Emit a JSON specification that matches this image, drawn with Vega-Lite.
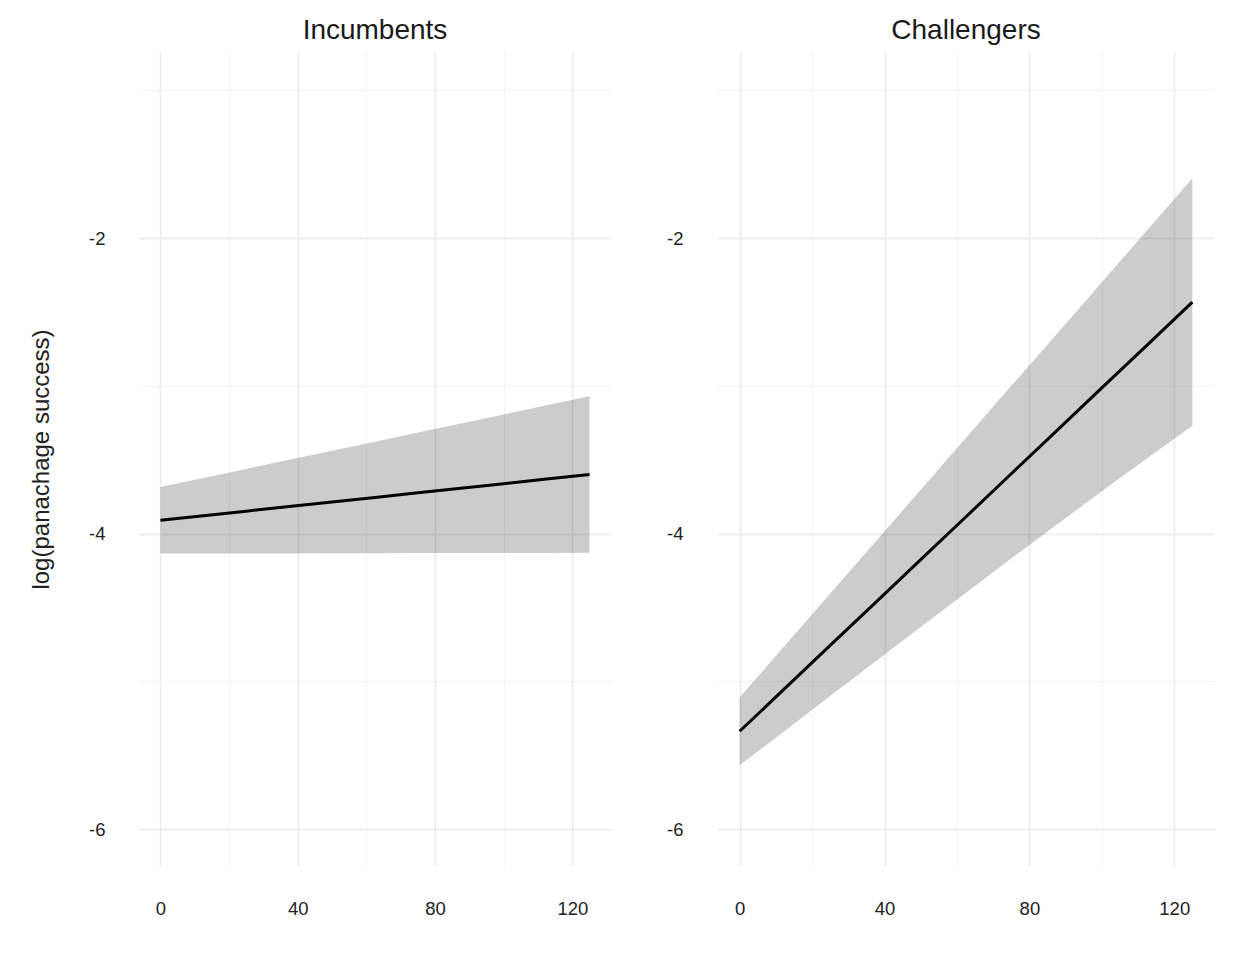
{
  "$schema": "https://vega.github.io/schema/vega-lite/v6.json",
  "background": "white",
  "padding": {"left": 29, "top": 17, "right": 0, "bottom": 0},
  "autosize": {"type": "pad"},
  "config": {
    "font": "Liberation Sans",
    "view": {"stroke": null},
    "axis": {
      "domain": false,
      "ticks": false,
      "gridColor": "#ebebeb",
      "gridWidth": 1.5,
      "labelFont": "Liberation Sans",
      "labelFontSize": 18.5,
      "labelColor": "#222222",
      "titleFont": "Liberation Sans",
      "titleFontSize": 24,
      "titleFontWeight": "normal",
      "titleColor": "#222222"
    },
    "concat": {"spacing": 55}
  },
  "data": {
    "values": [
      {"group": "Incumbents", "x": 0, "fit": -3.91, "lo": -4.135, "hi": -3.685},
      {"group": "Incumbents", "x": 12.5, "fit": -3.879, "lo": -4.135, "hi": -3.624},
      {"group": "Incumbents", "x": 25, "fit": -3.848, "lo": -4.134, "hi": -3.562},
      {"group": "Incumbents", "x": 37.5, "fit": -3.817, "lo": -4.134, "hi": -3.5},
      {"group": "Incumbents", "x": 50, "fit": -3.786, "lo": -4.133, "hi": -3.439},
      {"group": "Incumbents", "x": 62.5, "fit": -3.755, "lo": -4.133, "hi": -3.378},
      {"group": "Incumbents", "x": 75, "fit": -3.724, "lo": -4.132, "hi": -3.316},
      {"group": "Incumbents", "x": 87.5, "fit": -3.693, "lo": -4.132, "hi": -3.255},
      {"group": "Incumbents", "x": 100, "fit": -3.662, "lo": -4.131, "hi": -3.193},
      {"group": "Incumbents", "x": 112.5, "fit": -3.631, "lo": -4.131, "hi": -3.132},
      {"group": "Incumbents", "x": 125, "fit": -3.6, "lo": -4.13, "hi": -3.07},
      {"group": "Challengers", "x": 0, "fit": -5.338, "lo": -5.568, "hi": -5.108},
      {"group": "Challengers", "x": 12.5, "fit": -5.048, "lo": -5.335, "hi": -4.757},
      {"group": "Challengers", "x": 25, "fit": -4.757, "lo": -5.1, "hi": -4.405},
      {"group": "Challengers", "x": 37.5, "fit": -4.467, "lo": -4.865, "hi": -4.055},
      {"group": "Challengers", "x": 50, "fit": -4.176, "lo": -4.632, "hi": -3.703},
      {"group": "Challengers", "x": 62.5, "fit": -3.886, "lo": -4.4, "hi": -3.352},
      {"group": "Challengers", "x": 75, "fit": -3.595, "lo": -4.168, "hi": -3.0},
      {"group": "Challengers", "x": 87.5, "fit": -3.305, "lo": -3.94, "hi": -2.65},
      {"group": "Challengers", "x": 100, "fit": -3.014, "lo": -3.714, "hi": -2.298},
      {"group": "Challengers", "x": 112.5, "fit": -2.724, "lo": -3.49, "hi": -1.947},
      {"group": "Challengers", "x": 125, "fit": -2.433, "lo": -3.27, "hi": -1.595}
    ]
  },
  "hconcat": [
    {
      "width": 472,
      "height": 814,
      "title": {"text": "Incumbents", "fontSize": 28, "fontWeight": "normal", "color": "#1a1a1a", "anchor": "middle", "frame": "group", "baseline": "alphabetic", "offset": -15},
      "transform": [{"filter": "datum.group === 'Incumbents'"}],
      "layer": [
        {
          "mark": {"type": "area", "color": "#000000", "opacity": 0.2},
          "encoding": {
            "x": {"field": "x", "type": "quantitative", "scale": {"domain": [-6.25, 131.25], "nice": false, "zero": false}, "axis": {"values": [0, 40, 80, 120], "labelPadding": 33, "title": null, "grid": true, "labelFlush": false, "labelExpr": "'' + datum.value"}},
            "y": {"field": "lo", "type": "quantitative", "scale": {"domain": [-6.25, -0.74], "nice": false, "zero": false}, "axis": {"values": [-2, -4, -6], "labelPadding": 34, "title": "log(panachage success)", "titlePadding": 35, "grid": true, "labelExpr": "'' + datum.value"}},
            "y2": {"field": "hi"}
          }
        },
        {
          "mark": {"type": "line", "color": "#000000", "strokeWidth": 3},
          "encoding": {
            "x": {"field": "x", "type": "quantitative", "axis": {"orient": "top", "values": [20, 60, 100], "labels": false, "title": null, "grid": true, "gridColor": "#f4f4f4", "gridWidth": 1, "minExtent": 0, "maxExtent": 0, "offset": 0}},
            "y": {"field": "fit", "type": "quantitative", "axis": {"orient": "right", "values": [-1, -3, -5], "labels": false, "title": null, "grid": true, "gridColor": "#f4f4f4", "gridWidth": 1, "minExtent": 0, "maxExtent": 0, "offset": 0}}
          }
        }
      ],
      "resolve": {"axis": {"x": "independent", "y": "independent"}}
    },
    {
      "width": 498,
      "height": 814,
      "title": {"text": "Challengers", "fontSize": 28, "fontWeight": "normal", "color": "#1a1a1a", "anchor": "middle", "frame": "group", "baseline": "alphabetic", "offset": -15},
      "transform": [{"filter": "datum.group === 'Challengers'"}],
      "layer": [
        {
          "mark": {"type": "area", "color": "#000000", "opacity": 0.2},
          "encoding": {
            "x": {"field": "x", "type": "quantitative", "scale": {"domain": [-6.25, 131.25], "nice": false, "zero": false}, "axis": {"values": [0, 40, 80, 120], "labelPadding": 33, "title": null, "grid": true, "labelFlush": false, "labelExpr": "'' + datum.value"}},
            "y": {"field": "lo", "type": "quantitative", "scale": {"domain": [-6.25, -0.74], "nice": false, "zero": false}, "axis": {"values": [-2, -4, -6], "labelPadding": 34, "title": null, "grid": true, "labelExpr": "'' + datum.value"}},
            "y2": {"field": "hi"}
          }
        },
        {
          "mark": {"type": "line", "color": "#000000", "strokeWidth": 3},
          "encoding": {
            "x": {"field": "x", "type": "quantitative", "axis": {"orient": "top", "values": [20, 60, 100], "labels": false, "title": null, "grid": true, "gridColor": "#f4f4f4", "gridWidth": 1, "minExtent": 0, "maxExtent": 0, "offset": 0}},
            "y": {"field": "fit", "type": "quantitative", "axis": {"orient": "right", "values": [-1, -3, -5], "labels": false, "title": null, "grid": true, "gridColor": "#f4f4f4", "gridWidth": 1, "minExtent": 0, "maxExtent": 0, "offset": 0}}
          }
        }
      ],
      "resolve": {"axis": {"x": "independent", "y": "independent"}}
    }
  ]
}
